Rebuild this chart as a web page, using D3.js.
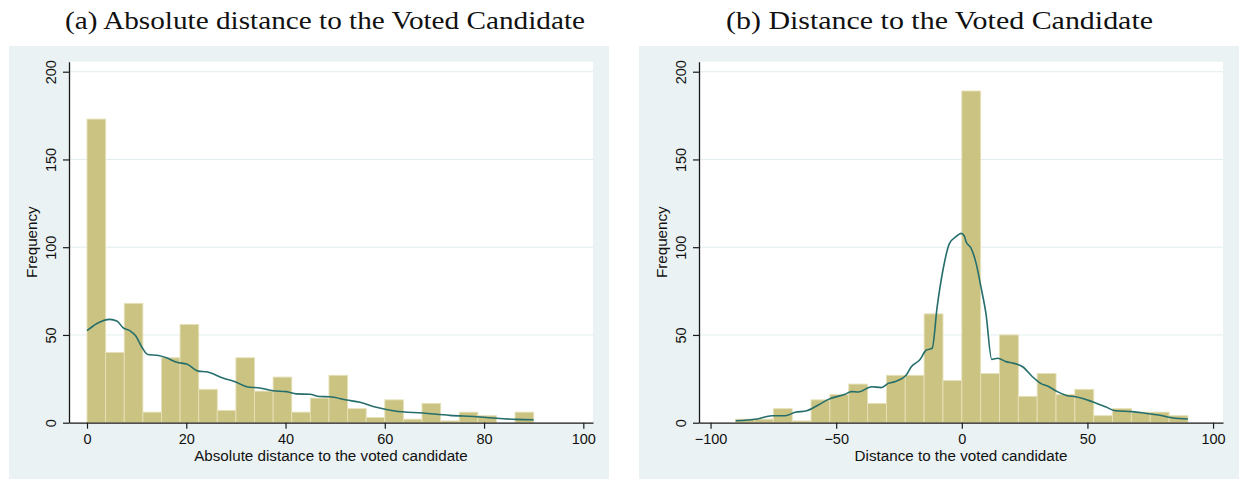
<!DOCTYPE html>
<html>
<head>
<meta charset="utf-8">
<script src="https://cdn.jsdelivr.net/npm/d3@7"></script>
<style>
  html, body { margin: 0; padding: 0; background: #ffffff; }
  svg { display: block; }
</style>
</head>
<body>
<svg id="chart" width="1245" height="481"></svg>
<script>
// ---- Histogram counts (24 equal-width bins per panel) ----
const absBinStart = 0;
const absBinWidth = 3.75;
const absCounts = [173, 40, 68, 6, 37, 56, 19, 7, 37, 18, 26, 6, 14, 27, 8, 3, 13, 2, 11, 1, 6, 4, 0, 6];

const signedBinStart = -90;
const signedBinWidth = 7.5;
const signedCounts = [2, 2, 8, 1, 13, 16, 22, 11, 27, 27, 62, 24, 189, 28, 50, 15, 28, 16, 19, 4, 8, 6, 6, 4];

// ---- Kernel density overlays, expressed on the frequency scale ----
const absDensity = [
  [0, 52.4], [2, 56.5], [4.6, 58.9], [6, 58.0], [7.3, 54.0], [8.7, 52.3], [9.8, 49.5], [11, 43.3],
  [12.2, 38.9], [14.4, 38.3], [16, 37.0], [18.1, 34.4], [20.1, 33.4], [22.4, 29.4], [24.1, 29.0],
  [27.5, 25.3], [29.8, 23.4], [32.2, 20.5], [34.8, 19.8], [37.5, 18.2], [40.2, 17.7], [42.2, 16.4],
  [44.9, 16.2], [46.9, 14.9], [48.9, 14.8], [52.3, 12.9], [55, 11.6], [58.3, 8.8], [62, 6.7],
  [67.7, 5.5], [73.1, 4.2], [78.5, 3.4], [82.5, 2.5], [86.5, 1.9], [90, 1.7]
];

const signedDensity = [
  [-90, 1.1], [-81.5, 2.1], [-75.6, 4.0], [-70.3, 4.0], [-66.3, 5.9], [-61.7, 6.8], [-57.1, 10.1],
  [-53.1, 13.3], [-46.5, 16.2], [-43.9, 17.7], [-41.2, 17.5], [-35.9, 20.5], [-32, 20.0],
  [-29.3, 22.4], [-26.7, 23.4], [-22.1, 27.2], [-20.1, 31.9], [-16.8, 35.7], [-14.1, 41.4],
  [-11.8, 42.4], [-9.8, 66.1], [-7.5, 87.0], [-4.9, 102.2], [-2.3, 106.0], [-0.3, 107.9],
  [1, 106.4], [1.7, 103.1], [3.7, 99.4], [5.7, 90.8], [7.6, 77.5], [9.6, 62.3], [11.9, 36.1],
  [14.3, 36.7], [17.6, 34.8], [20.8, 33.8], [24.2, 31.9], [28.1, 26.2], [31.4, 22.4], [34.7, 20.5],
  [38, 17.7], [42, 15.4], [45.3, 14.8], [51.9, 12.0], [57.2, 9.1], [61.1, 6.8], [67.8, 6.3],
  [73, 5.4], [78.3, 4.4], [83.6, 2.8], [90, 2.1]
];

// ---- Axis ticks and text ----
const freqTicks = [0, 50, 100, 150, 200];
const absTicks = [0, 20, 40, 60, 80, 100];
const signedTicks = [-100, -50, 0, 50, 100];
const panelTitles = ["(a) Absolute distance to the Voted Candidate", "(b) Distance to the Voted Candidate"];
const xAxisTitles = ["Absolute distance to the voted candidate", "Distance to the voted candidate"];
const yAxisTitle = "Frequency";

// ---- Styling ----
const COLORS = {
  region: "#eaf2f3",
  plot: "#ffffff",
  grid: "#e2ecee",
  barFill: "#cbc382",
  barStroke: "#e6e0b8",
  curve: "#256e6b",
  axis: "#1a1a1a",
  text: "#111111"
};
const SANS = "'Liberation Sans', Arial, Helvetica, sans-serif";
const SERIF = "'Liberation Serif', 'Times New Roman', serif";

const svg = d3.select("#chart");

const panels = [
  {
    region: { x: 9, y: 46, w: 600, h: 433 },
    plot: { x0: 69, x1: 593, y0: 61.7, y1: 422.7 },
    xDomain: [-3.63, 101.95],
    ticks: absTicks,
    binStart: absBinStart, binWidth: absBinWidth, counts: absCounts,
    density: absDensity,
    title: panelTitles[0], titleX: 325, titleWidth: 520,
    xTitle: xAxisTitles[0]
  },
  {
    region: { x: 639, y: 46, w: 600, h: 433 },
    plot: { x0: 699, x1: 1223, y0: 61.7, y1: 422.7 },
    xDomain: [-104.6, 103.96],
    ticks: signedTicks,
    binStart: signedBinStart, binWidth: signedBinWidth, counts: signedCounts,
    density: signedDensity,
    title: panelTitles[1], titleX: 939.5, titleWidth: 427,
    xTitle: xAxisTitles[1]
  }
];

const yDomain = [0, 205.7];

panels.forEach(p => {
  const g = svg.append("g");

  // caption above the panel
  g.append("text")
    .attr("x", p.titleX)
    .attr("y", 29)
    .attr("text-anchor", "middle")
    .attr("font-family", SERIF)
    .attr("font-size", 25)
    .attr("textLength", p.titleWidth)
    .attr("lengthAdjust", "spacingAndGlyphs")
    .attr("fill", COLORS.text)
    .text(p.title);

  // graph region and plot region backgrounds
  g.append("rect")
    .attr("x", p.region.x).attr("y", p.region.y)
    .attr("width", p.region.w).attr("height", p.region.h)
    .attr("fill", COLORS.region);
  g.append("rect")
    .attr("x", p.plot.x0).attr("y", p.plot.y0)
    .attr("width", p.plot.x1 - p.plot.x0).attr("height", p.plot.y1 - p.plot.y0)
    .attr("fill", COLORS.plot);

  const x = d3.scaleLinear().domain(p.xDomain).range([p.plot.x0, p.plot.x1]);
  const y = d3.scaleLinear().domain(yDomain).range([p.plot.y1, p.plot.y0]);

  // horizontal grid lines
  g.append("g")
    .selectAll("line")
    .data(freqTicks.filter(t => t > 0))
    .join("line")
    .attr("x1", p.plot.x0).attr("x2", p.plot.x1)
    .attr("y1", d => y(d)).attr("y2", d => y(d))
    .attr("stroke", COLORS.grid)
    .attr("stroke-width", 1);

  // histogram bars
  const bins = p.counts.map((c, i) => ({
    lo: p.binStart + i * p.binWidth,
    hi: p.binStart + (i + 1) * p.binWidth,
    count: c
  })).filter(b => b.count > 0);

  g.append("g")
    .selectAll("rect")
    .data(bins)
    .join("rect")
    .attr("x", d => x(d.lo))
    .attr("width", d => x(d.hi) - x(d.lo))
    .attr("y", d => y(d.count))
    .attr("height", d => y(0) - y(d.count))
    .attr("fill", COLORS.barFill)
    .attr("stroke", COLORS.barStroke)
    .attr("stroke-width", 0.9);

  // density curve
  const line = d3.line()
    .x(d => x(d[0]))
    .y(d => y(d[1]))
    .curve(d3.curveMonotoneX);
  g.append("path")
    .datum(p.density)
    .attr("d", line)
    .attr("fill", "none")
    .attr("stroke", COLORS.curve)
    .attr("stroke-width", 1.6)
    .attr("stroke-linejoin", "round");

  // x axis
  const xAxis = g.append("g")
    .attr("transform", `translate(0,${p.plot.y1})`)
    .call(d3.axisBottom(x).tickValues(p.ticks).tickSize(6).tickSizeOuter(0)
      .tickFormat(d => d < 0 ? "\u2212" + Math.abs(d) : String(d)));
  xAxis.select(".domain").attr("stroke", COLORS.axis).attr("stroke-width", 1.3);
  xAxis.selectAll(".tick line").attr("stroke", COLORS.axis).attr("stroke-width", 1.2);
  xAxis.selectAll(".tick text")
    .attr("y", 21)
    .attr("dy", 0)
    .attr("font-family", SANS)
    .attr("font-size", 14.5)
    .attr("fill", COLORS.text);

  // y axis with rotated labels
  const yAxis = g.append("g")
    .attr("transform", `translate(${p.plot.x0},0)`)
    .call(d3.axisLeft(y).tickValues(freqTicks).tickSize(6).tickSizeOuter(0));
  yAxis.select(".domain").attr("stroke", COLORS.axis).attr("stroke-width", 1.3);
  yAxis.selectAll(".tick line").attr("stroke", COLORS.axis).attr("stroke-width", 1.2);
  yAxis.selectAll(".tick text")
    .attr("x", 0)
    .attr("dy", 0)
    .attr("text-anchor", "middle")
    .attr("transform", "translate(-13.5,0) rotate(-90)")
    .attr("font-family", SANS)
    .attr("font-size", 14.5)
    .attr("fill", COLORS.text);
  svg.selectAll(".tick text").attr("font-family", SANS);

  // axis titles
  g.append("text")
    .attr("x", (p.plot.x0 + p.plot.x1) / 2)
    .attr("y", 460.5)
    .attr("text-anchor", "middle")
    .attr("font-family", SANS)
    .attr("font-size", 15.2)
    .attr("fill", COLORS.text)
    .text(p.xTitle);

  g.append("text")
    .attr("transform", `translate(${p.plot.x0 - 32.5},${(p.plot.y0 + p.plot.y1) / 2}) rotate(-90)`)
    .attr("text-anchor", "middle")
    .attr("font-family", SANS)
    .attr("font-size", 15.2)
    .attr("fill", COLORS.text)
    .text(yAxisTitle);
});
</script>
</body>
</html>
